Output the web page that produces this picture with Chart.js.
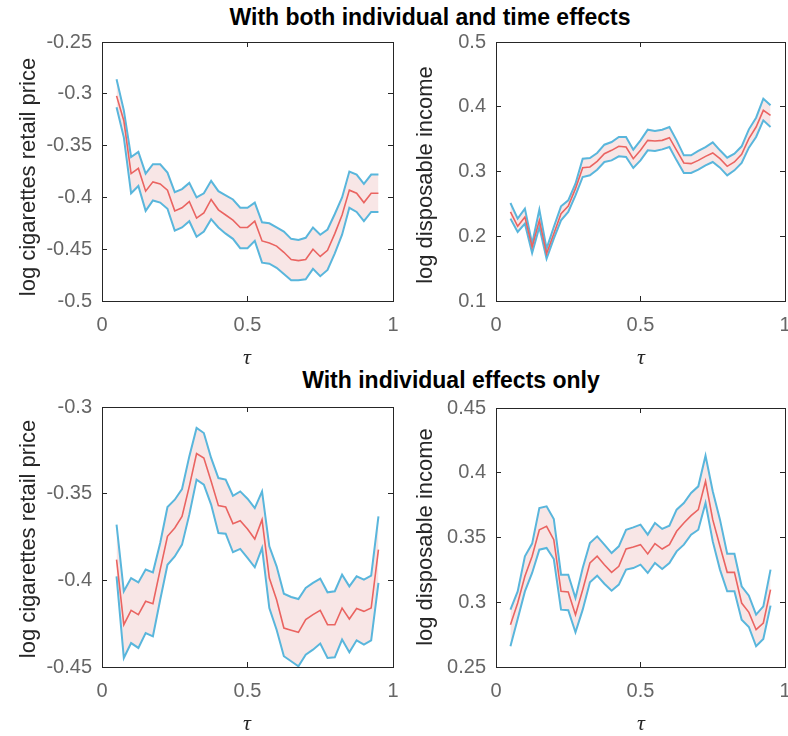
<!DOCTYPE html>
<html>
<head>
<meta charset="utf-8">
<script src="https://cdn.jsdelivr.net/npm/chart.js@4.4.0/dist/chart.umd.min.js"></script>
<style>
  html, body { margin:0; padding:0; background:#fff; }
  body { width:788px; height:736px; position:relative; overflow:hidden; }
  canvas { position:absolute; }
  .sup { position:absolute; width:600px; text-align:center; font-family:"Liberation Sans", Arial, sans-serif;
         font-weight:bold; font-size:23px; line-height:23px; color:#000; white-space:nowrap; }
  .ylab { position:absolute; width:400px; height:26px; line-height:26px; text-align:center; white-space:nowrap;
          font-family:"Liberation Sans", Arial, sans-serif; font-size:22px; color:#262626; transform:rotate(-90deg); }
  .xlab { position:absolute; width:60px; height:22px; line-height:22px; text-align:center;
          font-family:"Liberation Serif", "DejaVu Serif", serif; font-style:italic; font-size:22px; color:#262626; }
</style>
</head>
<body>
<div class="sup" style="left:130px; top:6px;">With both individual and time effects</div>
<div class="sup" style="left:151px; top:369px;">With individual effects only</div>
<canvas id="c1" width="400" height="350" style="left:0px; top:28px;"></canvas>
<canvas id="c2" width="388" height="350" style="left:400px; top:28px;"></canvas>
<canvas id="c3" width="400" height="344" style="left:0px; top:392px;"></canvas>
<canvas id="c4" width="388" height="344" style="left:400px; top:392px;"></canvas>
<div class="ylab" id="yl1" style="left:-172px; top:164px;"></div>
<div class="ylab" id="yl2" style="left:225px; top:162px;"></div>
<div class="ylab" id="yl3" style="left:-172px; top:526px;"></div>
<div class="ylab" id="yl4" style="left:225px; top:524px;"></div>
<div class="xlab" id="xl1" style="left:217px; top:346px;"></div>
<div class="xlab" id="xl2" style="left:611px; top:346px;"></div>
<div class="xlab" id="xl3" style="left:217px; top:712px;"></div>
<div class="xlab" id="xl4" style="left:611px; top:712px;"></div>
<script>
// quantile levels
const tau = [0.05,0.075,0.1,0.125,0.15,0.175,0.2,0.225,0.25,0.275,0.3,0.325,0.35,0.375,0.4,0.425,0.45,0.475,0.5,0.525,0.55,0.575,0.6,0.625,0.65,0.675,0.7,0.725,0.75,0.775,0.8,0.825,0.85,0.875,0.9,0.925,0.95];

// Panel 1: both effects, log cigarettes retail price
const p1Mid = [-0.302,-0.326,-0.377,-0.372,-0.394,-0.385,-0.387,-0.393,-0.413,-0.410,-0.404,-0.420,-0.415,-0.402,-0.412,-0.417,-0.422,-0.429,-0.429,-0.423,-0.442,-0.444,-0.447,-0.453,-0.460,-0.461,-0.460,-0.450,-0.457,-0.451,-0.435,-0.417,-0.393,-0.396,-0.405,-0.396,-0.396];
const p1Hi  = [-0.286,-0.316,-0.361,-0.356,-0.377,-0.368,-0.368,-0.376,-0.395,-0.392,-0.386,-0.400,-0.396,-0.384,-0.394,-0.398,-0.402,-0.410,-0.410,-0.405,-0.424,-0.425,-0.429,-0.433,-0.440,-0.441,-0.439,-0.429,-0.436,-0.431,-0.416,-0.400,-0.375,-0.378,-0.387,-0.378,-0.378];
const p1Lo  = [-0.313,-0.342,-0.396,-0.389,-0.413,-0.403,-0.405,-0.411,-0.432,-0.429,-0.423,-0.438,-0.433,-0.421,-0.429,-0.435,-0.440,-0.449,-0.449,-0.442,-0.463,-0.464,-0.468,-0.474,-0.480,-0.480,-0.479,-0.469,-0.476,-0.470,-0.454,-0.436,-0.410,-0.414,-0.423,-0.414,-0.414];

// Panel 2: both effects, log disposable income
const p2Mid = [0.2375,0.2153,0.2297,0.1834,0.2246,0.1731,0.2040,0.2349,0.2467,0.2735,0.3059,0.3070,0.3157,0.3275,0.3327,0.3389,0.3378,0.3198,0.3327,0.3481,0.3471,0.3481,0.3522,0.3327,0.3131,0.3121,0.3172,0.3234,0.3286,0.3198,0.3080,0.3147,0.3265,0.3507,0.3687,0.3945,0.3867];
const p2Hi  = [0.2513,0.2272,0.2426,0.1886,0.2410,0.1808,0.2143,0.2462,0.2555,0.2812,0.3198,0.3208,0.3286,0.3414,0.3455,0.3533,0.3533,0.3337,0.3481,0.3646,0.3625,0.3646,0.3687,0.3481,0.3250,0.3250,0.3317,0.3378,0.3450,0.3327,0.3214,0.3275,0.3389,0.3651,0.3831,0.4125,0.4022];
const p2Lo  = [0.2272,0.2066,0.2194,0.1741,0.2143,0.1654,0.1963,0.2246,0.2375,0.2632,0.2915,0.2941,0.3028,0.3147,0.3172,0.3234,0.3224,0.3054,0.3172,0.3327,0.3317,0.3342,0.3378,0.3172,0.2977,0.2977,0.3028,0.3095,0.3147,0.3059,0.2941,0.3018,0.3131,0.3368,0.3533,0.3790,0.3687];

// Panel 3: individual effects only, log cigarettes retail price
const p3Mid = [-0.3881,-0.4256,-0.4173,-0.4198,-0.4121,-0.4135,-0.3938,-0.3746,-0.3698,-0.3631,-0.3458,-0.3269,-0.3294,-0.3429,-0.3569,-0.3577,-0.3673,-0.3656,-0.3704,-0.3762,-0.3650,-0.3987,-0.4112,-0.4275,-0.4288,-0.4300,-0.4227,-0.4198,-0.4173,-0.4256,-0.4256,-0.4160,-0.4223,-0.4163,-0.4179,-0.4160,-0.3823];
const p3Hi  = [-0.3679,-0.4063,-0.3987,-0.4012,-0.3938,-0.3954,-0.3785,-0.3577,-0.3535,-0.3473,-0.3285,-0.3121,-0.3150,-0.3294,-0.3410,-0.3419,-0.3512,-0.3487,-0.3529,-0.3583,-0.3487,-0.3804,-0.3919,-0.4077,-0.4096,-0.4108,-0.4044,-0.4015,-0.3990,-0.4069,-0.4063,-0.3967,-0.4035,-0.3977,-0.3996,-0.3973,-0.3631];
const p3Lo  = [-0.3977,-0.4448,-0.4362,-0.4390,-0.4304,-0.4323,-0.4112,-0.3910,-0.3862,-0.3794,-0.3621,-0.3419,-0.3448,-0.3563,-0.3727,-0.3731,-0.3838,-0.3819,-0.3871,-0.3925,-0.3813,-0.4160,-0.4285,-0.4438,-0.4467,-0.4496,-0.4429,-0.4400,-0.4365,-0.4448,-0.4444,-0.4342,-0.4415,-0.4346,-0.4371,-0.4346,-0.4015];

// Panel 4: individual effects only, log disposable income
const p4Mid = [0.2827,0.2994,0.3200,0.3355,0.3560,0.3586,0.3483,0.3084,0.3079,0.2904,0.3097,0.3303,0.3355,0.3290,0.3231,0.3277,0.3411,0.3427,0.3445,0.3373,0.3453,0.3411,0.3445,0.3548,0.3612,0.3669,0.3715,0.3934,0.3638,0.3432,0.3231,0.3231,0.2994,0.2922,0.2788,0.2840,0.3097];
const p4Hi  = [0.2943,0.3084,0.3355,0.3453,0.3728,0.3741,0.3643,0.3213,0.3213,0.3033,0.3264,0.3458,0.3509,0.3445,0.3380,0.3432,0.3560,0.3578,0.3599,0.3522,0.3612,0.3566,0.3591,0.3715,0.3766,0.3844,0.3895,0.4132,0.3857,0.3638,0.3375,0.3375,0.3123,0.3051,0.2904,0.2968,0.3252];
const p4Lo  = [0.2660,0.2871,0.3084,0.3226,0.3406,0.3419,0.3334,0.2943,0.2938,0.2768,0.2943,0.3154,0.3205,0.3143,0.3089,0.3136,0.3252,0.3264,0.3290,0.3226,0.3303,0.3257,0.3303,0.3393,0.3445,0.3522,0.3560,0.3766,0.3470,0.3252,0.3084,0.3084,0.2865,0.2809,0.2660,0.2716,0.2974];

// tick values and labels
const xTicks = [0, 0.5, 1];
const xTickLabels = ['0', '0.5', '1'];
const y1Ticks = [-0.5,-0.45,-0.4,-0.35,-0.3,-0.25];
const y1TickLabels = ['-0.5','-0.45','-0.4','-0.35','-0.3','-0.25'];
const y2Ticks = [0.1,0.2,0.3,0.4,0.5];
const y2TickLabels = ['0.1','0.2','0.3','0.4','0.5'];
const y3Ticks = [-0.45,-0.4,-0.35,-0.3];
const y3TickLabels = ['-0.45','-0.4','-0.35','-0.3'];
const y4Ticks = [0.25,0.3,0.35,0.4,0.45];
const y4TickLabels = ['0.25','0.3','0.35','0.4','0.45'];

const yTitlePrice = 'log cigarettes retail price';
const yTitleIncome = 'log disposable income';
const xTitle = '\u03C4';

// axis titles as real text
document.getElementById('yl1').textContent = yTitlePrice;
document.getElementById('yl2').textContent = yTitleIncome;
document.getElementById('yl3').textContent = yTitlePrice;
document.getElementById('yl4').textContent = yTitleIncome;
['xl1','xl2','xl3','xl4'].forEach(id => { document.getElementById(id).textContent = xTitle; });

const AXIS = '#262626';
const TL = -5; // inward tick marks

function pts(arr) { return tau.map((t, i) => ({x: t, y: arr[i]})); }
const zeroPad = s => { s.paddingTop = 0; s.paddingBottom = 0; s.paddingLeft = 0; s.paddingRight = 0; };

function makeChart(id, mid, lo, hi, yMin, yMax, yTicks, yLabels, geom) {
  const ax = (pos, isX, showLabels) => ({
    type: 'linear', position: pos,
    min: isX ? 0 : yMin, max: isX ? 1 : yMax,
    border: { display: true, color: AXIS, width: 1 },
    grid: { display: true, drawOnChartArea: false, drawTicks: true, tickLength: TL, color: AXIS, lineWidth: 1 },
    afterBuildTicks: s => { s.ticks = (isX ? xTicks : yTicks).map(v => ({value: v})); },
    ticks: {
      display: showLabels, font: { size: 20 }, maxRotation: 0,
      padding: (isX ? 12 : 10) - TL,
      callback: (v, i) => (isX ? xTickLabels : yLabels)[i]
    },
    afterFit: s => {
      if (isX) s.height = showLabels ? geom.xH : 0; else s.width = showLabels ? geom.yW : 0;
      zeroPad(s);
    }
  });
  return new Chart(document.getElementById(id), {
    type: 'line',
    data: {
      datasets: [
        { data: pts(mid), borderColor: '#ea6461', borderWidth: 1.6, pointRadius: 0, fill: false },
        { data: pts(lo), borderColor: '#59b6dc', borderWidth: 2, pointRadius: 0, fill: false },
        { data: pts(hi), borderColor: '#59b6dc', borderWidth: 2, pointRadius: 0, fill: 1, backgroundColor: 'rgba(240,200,200,0.45)' }
      ]
    },
    options: {
      responsive: false, animation: false, devicePixelRatio: 1,
      layout: { padding: { left: 0, right: geom.padR, top: geom.padT, bottom: 0 } },
      plugins: { legend: { display: false }, tooltip: { enabled: false } },
      scales: { x: ax('bottom', true, true), xTop: ax('top', true, false), y: ax('left', false, true), yRight: ax('right', false, false) }
    }
  });
}

makeChart('c1', p1Mid, p1Lo, p1Hi, -0.5, -0.25, y1Ticks, y1TickLabels, { padR: 7, padT: 14, xH: 77, yW: 102 });
makeChart('c2', p2Mid, p2Lo, p2Hi, 0.1, 0.5, y2Ticks, y2TickLabels, { padR: 3, padT: 14, xH: 77, yW: 96 });
makeChart('c3', p3Mid, p3Lo, p3Hi, -0.45, -0.3, y3Ticks, y3TickLabels, { padR: 7, padT: 15, xH: 69, yW: 102 });
makeChart('c4', p4Mid, p4Lo, p4Hi, 0.25, 0.45, y4Ticks, y4TickLabels, { padR: 3, padT: 16, xH: 69, yW: 96 });
</script>
</body>
</html>
